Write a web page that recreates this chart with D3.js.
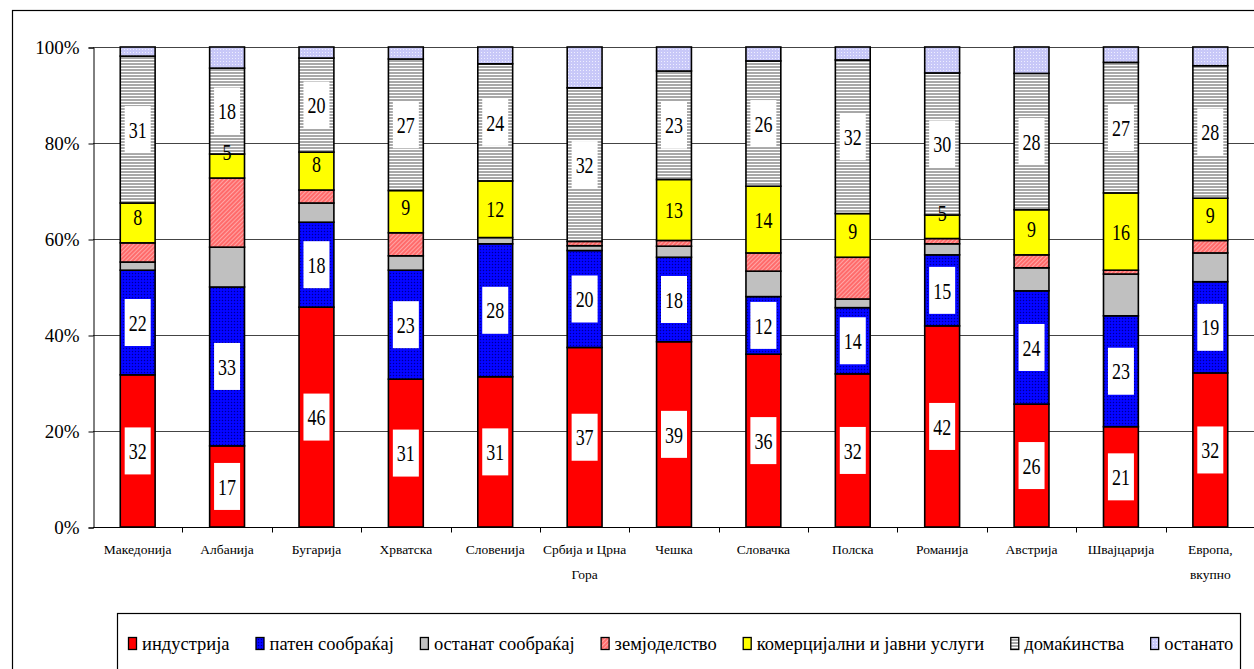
<!DOCTYPE html>
<html><head><meta charset="utf-8">
<script src="https://cdn.jsdelivr.net/npm/d3@7"></script>
<style>body{margin:0;background:#fff;} svg text{font-family:'Liberation Serif','Times New Roman',Times,Tinos,'DejaVu Serif',serif !important;}</style>
</head><body>
<script>
const categories = ["Македонија","Албанија","Бугарија","Хрватска","Словенија","Србија и Црна\nГора","Чешка","Словачка","Полска","Романија","Австрија","Швајцарија","Европа,\nвкупно"];
const seriesNames = ["индустрија","патен сообраќај","останат сообраќај","земјоделство","комерцијални и јавни услуги","домаќинства","останато"];
const industry       = [31.7, 16.9, 45.8, 30.8, 31.3, 37.4, 38.6, 36.0, 31.9, 41.9, 25.6, 20.9, 32.1];
const roadTransport  = [21.8, 33.1, 17.7, 22.7, 27.7, 20.2, 17.6, 12.0, 13.8, 14.8, 23.6, 23.1, 19.0];
const otherTransport = [1.7, 8.3, 4.0, 3.0, 1.3, 1.0, 2.3, 5.3, 1.8, 2.3, 4.8, 8.7, 6.0];
const agriculture    = [4.0, 14.4, 2.7, 4.8, 0.0, 0.9, 1.2, 3.8, 8.7, 1.1, 2.7, 0.8, 2.6];
const commercial     = [8.3, 5.0, 7.9, 8.8, 11.8, 0.0, 12.7, 13.9, 9.1, 4.9, 9.4, 16.1, 8.8];
const households     = [30.6, 17.9, 19.6, 27.4, 24.4, 32.0, 22.6, 26.1, 32.0, 29.6, 28.4, 27.2, 27.6];
const other          = [1.9, 4.4, 2.3, 2.5, 3.5, 8.5, 5.0, 2.9, 2.7, 5.4, 5.5, 3.2, 3.9];
const yTicks = [0, 0.2, 0.4, 0.6, 0.8, 1.0];

const FONT = "'Liberation Serif','Times New Roman',Times,Tinos,'DejaVu Serif',serif";
const seriesData = [industry, roadTransport, otherTransport, agriculture, commercial, households, other];
const fills = ["#FF0000","url(#pRoad)","#C0C0C0","url(#pAgri)","#FFFF00","url(#pHouse)","url(#pOther)"];
const labelled = [true, true, false, false, true, true, false];
const boxed = [true, true, false, false, false, true, false];

const W = 1254, H = 669;
const svg = d3.select("body").append("svg").attr("width", W).attr("height", H).attr("font-family", FONT);
const defs = svg.append("defs");
let p = defs.append("pattern").attr("id","pRoad").attr("patternUnits","userSpaceOnUse").attr("width",3).attr("height",3);
p.append("rect").attr("width",3).attr("height",3).attr("fill","#0000FF");
p.append("rect").attr("x",0).attr("y",0).attr("width",1).attr("height",1).attr("fill","#00008C");
p.append("rect").attr("x",1.5).attr("y",1.5).attr("width",1).attr("height",1).attr("fill","#1a1aff");
p = defs.append("pattern").attr("id","pAgri").attr("patternUnits","userSpaceOnUse").attr("width",3).attr("height",3).attr("patternTransform","rotate(45)");
p.append("rect").attr("width",3).attr("height",3).attr("fill","#FF6B6B");
p.append("rect").attr("width",1).attr("height",3).attr("fill","#FFA5A5");
p = defs.append("pattern").attr("id","pHouse").attr("patternUnits","userSpaceOnUse").attr("width",4).attr("height",3);
p.append("rect").attr("width",4).attr("height",3).attr("fill","#FFFFFF");
p.append("rect").attr("width",4).attr("height",2).attr("fill","#A8A8A8");
p = defs.append("pattern").attr("id","pOther").attr("patternUnits","userSpaceOnUse").attr("width",3).attr("height",3);
p.append("rect").attr("width",3).attr("height",3).attr("fill","#C8C8F8");
p.append("rect").attr("x",1).attr("y",1).attr("width",1).attr("height",1).attr("fill","#EEEEFF");

svg.append("rect").attr("x",12.5).attr("y",10.5).attr("width",1260).attr("height",700)
  .attr("fill","none").attr("stroke","#000").attr("stroke-width",1.2);

const plotL = 93, plotR = 1255, plotT = 47, plotB = 527;
const x = d3.scaleBand().domain(categories).range([plotL, plotR]).paddingInner(0.61).paddingOuter(0.305);
const y = d3.scaleLinear().domain([0,1]).range([plotB, plotT]);

svg.append("g").selectAll("line").data(yTicks.filter(t=>t>0)).join("line")
  .attr("x1", plotL).attr("x2", plotR).attr("y1", d=>Math.round(y(d))+0.5).attr("y2", d=>Math.round(y(d))+0.5)
  .attr("stroke","#444").attr("stroke-width",1);

const yAxis = d3.axisLeft(y).tickValues(yTicks).tickFormat(d3.format(".0%")).tickSize(5).tickPadding(9);
const gy = svg.append("g").attr("transform",`translate(${plotL+0.5},0.5)`).call(yAxis).attr("font-family", FONT);
gy.select(".domain").attr("stroke","#000");
gy.selectAll(".tick line").attr("stroke","#000");
gy.selectAll("text").attr("font-size","19px").attr("fill","#000");

const gx = svg.append("g").attr("transform",`translate(0,${plotB+0.5})`);
gx.append("line").attr("x1",plotL).attr("x2",plotR).attr("stroke","#000");
const bounds = categories.map((c)=> x(c) - x.step()*x.paddingInner()/2 + x.step());
gx.selectAll("line.tk").data(bounds).join("line").attr("class","tk")
  .attr("x1",d=>Math.round(d)+0.5).attr("x2",d=>Math.round(d)+0.5).attr("y1",0).attr("y2",5).attr("stroke","#000");
const xl = gx.selectAll("text.xl").data(categories).join("text").attr("class","xl")
  .attr("x", d=>x(d)+x.bandwidth()/2).attr("y", 26).attr("text-anchor","middle")
  .attr("font-size","13.5px").attr("fill","#000");
xl.each(function(d){
  const lines = d.split("\n");
  d3.select(this).selectAll("tspan").data(lines).join("tspan")
    .attr("x", x(d)+x.bandwidth()/2).attr("dy",(l,i)=> i===0 ? 0 : 25).text(l=>l);
});

const rows = categories.map((c,i)=>({cat:c, vals: seriesData.map(s=>s[i])}));
const stack = d3.stack().keys(d3.range(seriesData.length)).value((d,k)=>d.vals[k]).offset(d3.stackOffsetExpand);
const stacked = stack(rows);

const gBars = svg.append("g");
stacked.forEach((layer, k)=>{
  gBars.append("g").selectAll("rect").data(layer).join("rect")
    .attr("x", d=>x(d.data.cat)).attr("width", x.bandwidth())
    .attr("y", d=>y(d[1])).attr("height", d=>Math.max(0, y(d[0])-y(d[1])))
    .attr("fill", fills[k]).attr("stroke","#000").attr("stroke-width",1.6);
});

const gLab = svg.append("g");
stacked.forEach((layer, k)=>{
  if(!labelled[k]) return;
  layer.forEach((d)=>{
    const v = d.data.vals[k];
    if (v < 4.5) return;
    const bottom = y(d[0]), top = y(d[1]);
    const cy = Math.min((bottom+top)/2, bottom - 26);
    const cx = x(d.data.cat) + x.bandwidth()/2;
    const txt = String(Math.round(v));
    const g = gLab.append("g").attr("transform",`translate(${cx},${cy})`);
    if (boxed[k]) {
      const w = txt.length*9 + 8;
      g.append("rect").attr("x",-w/2).attr("y",-23.5).attr("width",w).attr("height",47).attr("fill","#fff");
    }
    g.append("text").attr("transform","scale(0.75,1)").attr("text-anchor","middle").attr("dy","0.34em")
      .attr("font-size","24px").attr("fill","#000").text(txt);
  });
});

svg.append("rect").attr("x",117.5).attr("y",613.5).attr("width",1123).attr("height",80)
  .attr("fill","#fff").attr("stroke","#000").attr("stroke-width",1.2);
const gLeg = svg.append("g");
let lx = 128;
seriesNames.forEach((name,k)=>{
  gLeg.append("rect").attr("x",lx+0.5).attr("y",637.5).attr("width",8).attr("height",12)
    .attr("fill",fills[k]).attr("stroke","#000").attr("stroke-width",1.3);
  const t = gLeg.append("text").attr("x",lx+14).attr("y",650).attr("font-size","18.5px").attr("fill","#000").text(name);
  lx = lx + 14 + t.node().getComputedTextLength() + 26;
});
</script>
</body></html>
